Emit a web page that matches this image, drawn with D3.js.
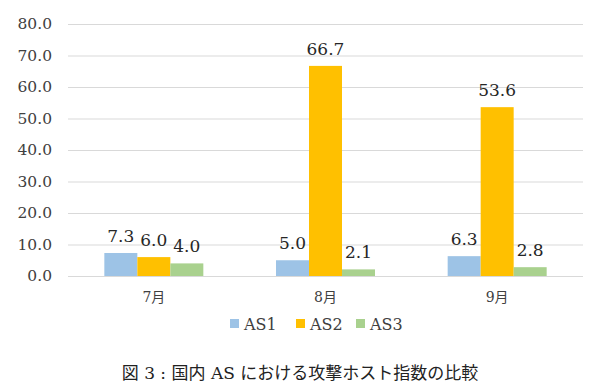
<!DOCTYPE html>
<html lang="ja">
<head>
  <meta charset="UTF-8">
  <title></title>
  <style>
    body { margin: 0; background: #fff; }
    svg text.serif { font-family: "DejaVu Serif"; }
    svg text.jp { font-family: "DejaVu Serif", "Noto Sans CJK JP"; }
  </style>
</head>
<body>
  <script src="https://d3js.org/d3.v7.min.js"></script>
  <script>
    const months = ["7月", "8月", "9月"];
    const seriesNames = ["AS1", "AS2", "AS3"];
    const as1 = [7.3, 5.0, 6.3];
    const as2 = [6.0, 66.7, 53.6];
    const as3 = [4.0, 2.1, 2.8];
    const yTicks = [0, 10, 20, 30, 40, 50, 60, 70, 80];
    const caption = "図 3 : 国内 AS における攻撃ホスト指数の比較";

    const [width, height] = [600, 389];
    const margin = { top: 24, right: 17, bottom: 113, left: 68 };
    const colors = ["#9dc3e6", "#ffc000", "#a9d18e"];

    const values = [as1, as2, as3];
    const data = months.map((m, i) => ({
      month: m,
      vals: seriesNames.map((s, j) => ({ key: s, value: values[j][i], idx: j }))
    }));

    const x = d3.scaleBand()
      .domain(months)
      .range([margin.left, width - margin.right]);

    const x1 = d3.scaleBand()
      .domain(seriesNames)
      .range([x.bandwidth() / 2 - 49.5, x.bandwidth() / 2 + 49.5]);

    const y = d3.scaleLinear()
      .domain([0, 80])
      .range([height - margin.bottom, margin.top]);

    const svg = d3.select(document.body)
      .append("svg")
      .attr("width", width)
      .attr("height", height)
      .attr("viewBox", [0, 0, width, height]);

    // grid + y labels
    svg.append("g")
      .attr("transform", `translate(${margin.left},0)`)
      .call(d3.axisLeft(y).tickValues(yTicks)
        .tickSize(-(width - margin.left - margin.right))
        .tickPadding(16)
        .tickFormat(d3.format(".1f")))
      .call(g => g.select(".domain").remove())
      .call(g => g.selectAll(".tick line").attr("stroke", "#d9d9d9"))
      .call(g => g.selectAll(".tick text")
        .attr("class", "serif")
        .attr("fill", "#404040")
        .style("font-size", "15.5px"));

    // bars
    const groups = svg.append("g")
      .selectAll("g")
      .data(data)
      .join("g")
      .attr("transform", d => `translate(${x(d.month)},0)`);

    groups.selectAll("rect")
      .data(d => d.vals)
      .join("rect")
      .attr("x", d => x1(d.key))
      .attr("width", x1.bandwidth())
      .attr("y", d => y(d.value))
      .attr("height", d => y(0) - y(d.value))
      .attr("fill", d => colors[d.idx]);

    groups.selectAll("text")
      .data(d => d.vals)
      .join("text")
      .attr("class", "serif")
      .attr("x", d => x1(d.key) + x1.bandwidth() / 2)
      .attr("y", d => y(d.value) - 11)
      .attr("text-anchor", "middle")
      .attr("fill", "#262626")
      .style("font-size", "17px")
      .text(d => d3.format(".1f")(d.value));

    // x labels
    svg.append("g")
      .attr("transform", `translate(0,${y(0)})`)
      .call(d3.axisBottom(x).tickSize(0).tickPadding(16))
      .call(g => g.select(".domain").remove())
      .call(g => g.selectAll(".tick text")
        .attr("class", "jp")
        .attr("fill", "#404040")
        .style("font-size", "14px"));

    // legend
    const legendX = [230, 296, 356];
    const legend = svg.append("g")
      .selectAll("g")
      .data(seriesNames)
      .join("g")
      .attr("transform", (d, i) => `translate(${legendX[i]},324)`);
    legend.append("rect")
      .attr("x", 0).attr("y", -5)
      .attr("width", 9).attr("height", 9)
      .attr("fill", (d, i) => colors[i]);
    legend.append("text")
      .attr("class", "serif")
      .attr("x", 14).attr("y", 6)
      .attr("fill", "#404040")
      .style("font-size", "16px")
      .text(d => d);

    // caption
    svg.append("text")
      .attr("class", "jp")
      .attr("x", width / 2)
      .attr("y", 379)
      .attr("text-anchor", "middle")
      .attr("fill", "#222")
      .style("font-size", "17px")
      .text(caption);
  </script>
</body>
</html>
